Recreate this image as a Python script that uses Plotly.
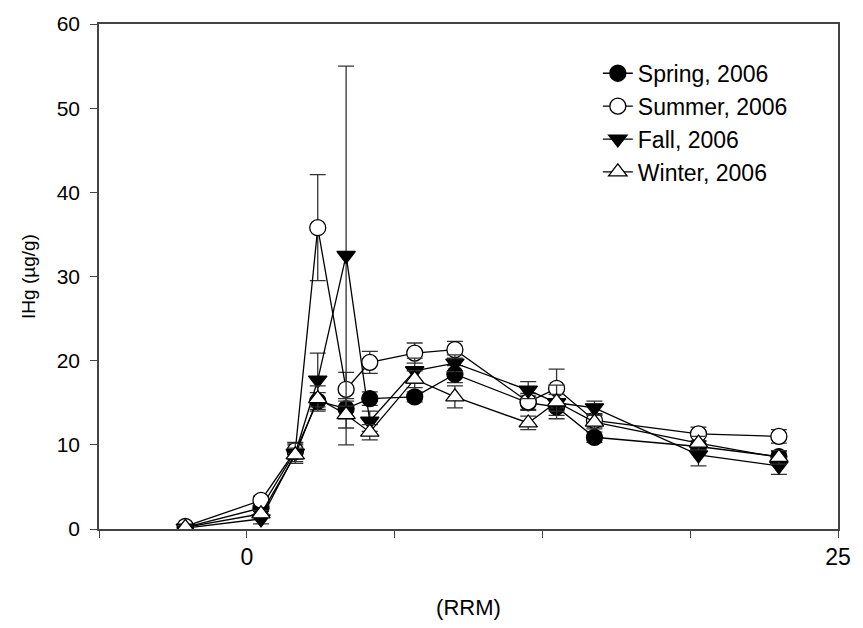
import plotly.graph_objects as go

# River position (RRM) of each sampling site
x_rrm = [-2.6, 0.6, 2.05, 3.0, 4.2, 5.2, 7.1, 8.8, 11.9, 13.1, 14.7, 19.1, 22.5]

# IHg (ug/g) per season
spring = [0.2, 2.5, 9.2, 15.2, 14.3, 15.5, 15.7, 18.4, 15.0, 14.5, 10.9, 9.8, 8.6]
summer = [0.3, 3.4, 9.3, 35.8, 16.6, 19.8, 20.9, 21.3, 15.1, 16.7, 12.9, 11.3, 11.0]
fall = [0.1, 1.2, 9.0, 17.7, 32.5, 12.8, 18.8, 19.7, 16.5, 15.0, 14.4, 8.8, 7.5]
winter = [0.2, 1.8, 8.8, 15.5, 13.6, 11.5, 17.8, 15.7, 12.6, 15.1, 12.7, 10.2, 8.5]

# error bars
spring_err = [0.2, 0.4, 0.8, 1.0, 1.2, 0.8, 0.6, 1.0, 0.8, 1.0, 0.6, 0.6, 0.6]
summer_err = [0.2, 0.5, 1.0, 6.3, 2.0, 1.3, 1.2, 1.0, 1.0, 2.3, 0.8, 0.8, 0.8]
fall_err = [0.2, 0.6, 1.2, 3.2, 22.5, 1.2, 1.5, 1.0, 1.0, 1.0, 0.8, 1.3, 1.0]
winter_err = [0.2, 0.4, 0.8, 1.5, 1.6, 0.9, 1.0, 1.3, 0.8, 2.0, 0.8, 0.8, 0.8]

series = [
    ("Spring, 2006", spring, spring_err, "circle", "black"),
    ("Summer, 2006", summer, summer_err, "circle", "white"),
    ("Fall, 2006", fall, fall_err, "triangle-down", "black"),
    ("Winter, 2006", winter, winter_err, "triangle-up", "white"),
]

x_tickvals = [-6.25, 0, 6.25, 12.5, 18.75, 25]
x_ticktext = ["", "0", "", "", "", "25"]
y_tickvals = [0, 10, 20, 30, 40, 50, 60]

FONT = "Arial, Liberation Sans, sans-serif"

fig = go.Figure()
for name, ys, errs, sym, fill in series:
    fig.add_trace(go.Scatter(
        x=x_rrm, y=ys, name=name, mode="lines+markers",
        line=dict(color="black", width=1.3),
        marker=dict(symbol=sym, size=16, color=fill,
                    line=dict(color="black", width=1.3)),
        error_y=dict(type="data", array=errs, visible=True,
                     color="#333333", thickness=1.3, width=8),
    ))

fig.update_layout(
    width=863, height=628,
    margin=dict(l=99, r=24, t=19, b=86),
    paper_bgcolor="white", plot_bgcolor="white",
    font=dict(family=FONT, color="black"),
    showlegend=True,
    legend=dict(x=0.675, y=0.945, xanchor="left", yanchor="top",
                bgcolor="rgba(0,0,0,0)", font=dict(size=23, family=FONT),
                itemsizing="trace", tracegroupgap=0),
    xaxis=dict(range=[-6.25, 25], tickvals=x_tickvals, ticktext=x_ticktext,
               ticks="outside", ticklen=7, tickcolor="#444", tickwidth=1.3,
               showline=True, linecolor="#444", linewidth=1.5, mirror=True,
               showgrid=False, zeroline=False,
               tickfont=dict(size=23, family=FONT),
               title=dict(text="(RRM)", font=dict(size=22, family=FONT), standoff=30)),
    yaxis=dict(range=[0, 60], tickvals=y_tickvals,
               ticks="outside", ticklen=7, tickcolor="#444", tickwidth=1.3,
               showline=True, linecolor="#444", linewidth=1.5, mirror=True,
               showgrid=False, zeroline=False,
               tickfont=dict(size=21, family=FONT), ticklabelstandoff=6,
               title=dict(text="IHg (µg/g)", font=dict(size=19, family=FONT), standoff=16)),
)

fig.write_html("out.html", config={"displayModeBar": False},
               post_script="document.body.style.margin='0px';")
